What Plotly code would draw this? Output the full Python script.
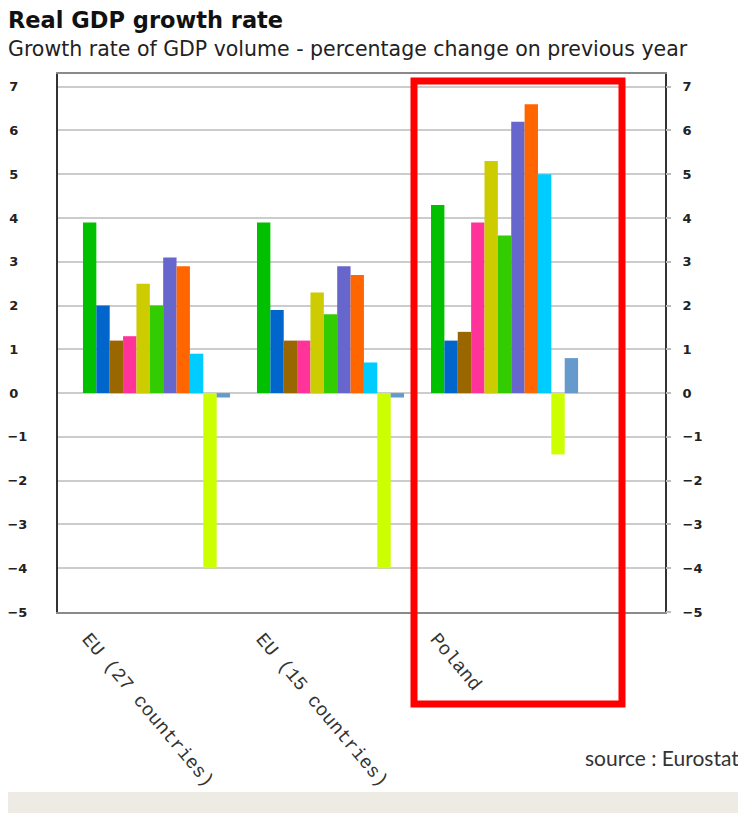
import plotly.graph_objects as go

# ---------------- data ----------------
categories = ["EU (27 countries)", "EU (15 countries)", "Poland"]
years = ["2000", "2001", "2002", "2003", "2004", "2005",
         "2006", "2007", "2008", "2009", "2010"]
eu27 = [3.9, 2.0, 1.2, 1.3, 2.5, 2.0, 3.1, 2.9, 0.9, -4.0, -0.1]
eu15 = [3.9, 1.9, 1.2, 1.2, 2.3, 1.8, 2.9, 2.7, 0.7, -4.0, -0.1]
poland = [4.3, 1.2, 1.4, 3.9, 5.3, 3.6, 6.2, 6.6, 5.0, -1.4, 0.8]
y_ticks = [-5, -4, -3, -2, -1, 0, 1, 2, 3, 4, 5, 6, 7]

colors = ["#00c000", "#0066cc", "#996600", "#ff3399", "#cccc00", "#33cc00",
          "#6666cc", "#ff6600", "#00ccff", "#ccff00", "#6699cc"]

x_pos = list(range(len(categories)))
tick_offset = -0.39

fig = go.Figure()
for i, yr in enumerate(years):
    fig.add_trace(go.Bar(
        x=x_pos, y=[eu27[i], eu15[i], poland[i]],
        name=yr, marker=dict(color=colors[i], line=dict(width=0)),
        showlegend=False,
    ))
# invisible trace to carry the right-hand axis
fig.add_trace(go.Scatter(x=[0], y=[None], yaxis="y2", showlegend=False,
                         hoverinfo="skip", mode="markers"))

def fmt(v):
    return ("\u2212" + str(-v)) if v < 0 else str(v)

left_text = [fmt(v) if v < 0 else str(v) + "\u2007" for v in y_ticks]
right_text = [fmt(v) for v in y_ticks]

tick_font = dict(family="DejaVu Sans", size=13, color="#222222", weight="bold")

fig.update_layout(
    width=738, height=805, autosize=False,
    margin=dict(l=50, r=81, t=66, b=201, pad=0),
    paper_bgcolor="white", plot_bgcolor="white",
    barmode="group", bargap=0.155, bargroupgap=0,
    xaxis=dict(
        range=[-0.566, 2.922], automargin=False,
        tickvals=[p + tick_offset for p in x_pos], ticktext=categories,
        tickangle=50,
        tickfont=dict(family="Liberation Mono", size=19, color="#333333"),
        showgrid=False, zeroline=False, ticks="",
        showline=True, mirror=True, linecolor="#8a8a8a", linewidth=2,
        ticklabelstandoff=6,
    ),
    yaxis=dict(
        range=[-5, 7.29], tickvals=y_ticks, ticktext=left_text, automargin=False,
        tickfont=tick_font,
        showgrid=True, gridcolor="#cccccc", gridwidth=1.5,
        zeroline=False, ticks="",
        showline=True, mirror=True, linecolor="#333333", linewidth=2,
        ticklabelstandoff=26,
    ),
    yaxis2=dict(
        range=[-5, 7.29], tickvals=y_ticks, ticktext=right_text, automargin=False,
        overlaying="y", side="right", anchor="x",
        tickfont=tick_font,
        showgrid=False, zeroline=False, showline=False,
        ticks="outside", ticklen=5, tickcolor="#bbbbbb", tickwidth=1.5,
        ticklabelstandoff=9,
    ),
    annotations=[
        dict(text="Real GDP growth rate", xref="paper", yref="paper",
             x=(6 - 58) / 607, y=(612 - 20) / 538, xanchor="left", yanchor="middle",
             showarrow=False,
             font=dict(family="DejaVu Sans", size=22.5, color="#111111", weight="bold")),
        dict(text="Growth rate of GDP volume - percentage change on previous year",
             xref="paper", yref="paper",
             x=(6 - 58) / 607, y=(612 - 49) / 538, xanchor="left", yanchor="middle",
             showarrow=False,
             font=dict(family="DejaVu Sans", size=20.5, color="#222222")),
        dict(text="source : Eurostat", xref="paper", yref="paper",
             x=(741 - 58) / 607, y=(612 - 758) / 538, xanchor="right", yanchor="middle",
             showarrow=False,
             font=dict(family="Lato", size=21, color="#333333")),
    ],
    shapes=[
        dict(type="rect", xref="paper", yref="paper",
             x0=-0.12, x1=1.15, y0=-0.39, y1=(612 - 792) / 538,
             fillcolor="#eeebe5", line=dict(width=0), layer="below"),
        dict(type="rect", xref="paper", yref="paper",
             x0=(414 - 58) / 607, x1=(622 - 58) / 607,
             y0=(612 - 704) / 538, y1=(612 - 81) / 538,
             line=dict(color="#ff0000", width=7), fillcolor="rgba(0,0,0,0)"),
    ],
)

fig.write_html("out.html")
